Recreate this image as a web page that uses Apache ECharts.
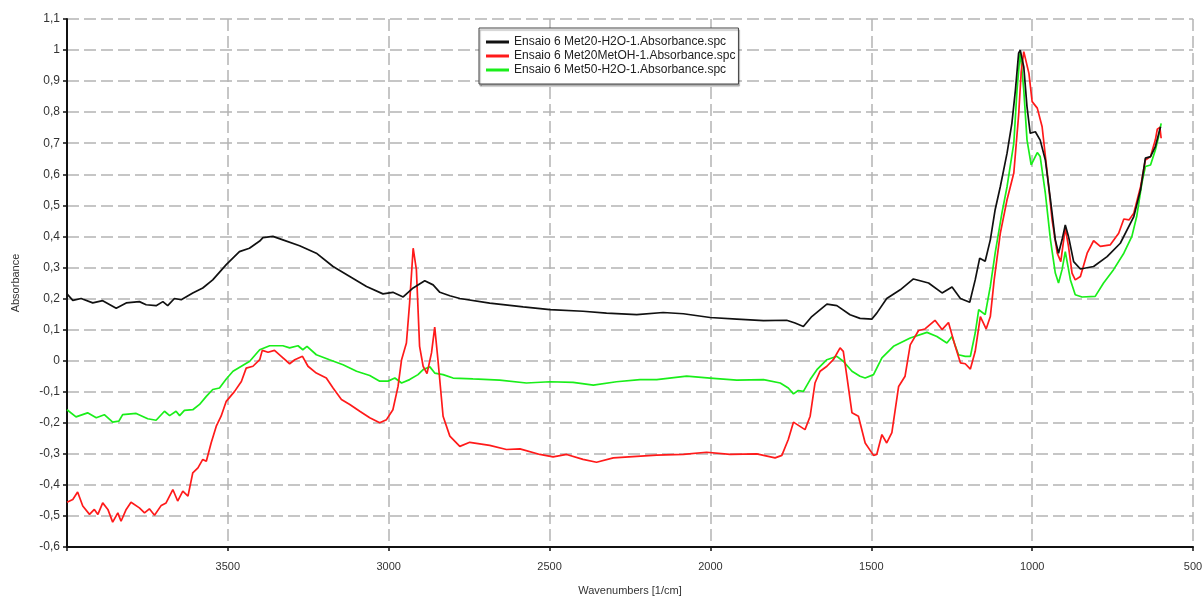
<!DOCTYPE html>
<html>
<head>
<meta charset="utf-8">
<script src="https://cdn.jsdelivr.net/npm/echarts@6/dist/echarts.min.js"></script>
<style>
html,body{margin:0;padding:0;background:#fff;}
#chart{width:1203px;height:597px;}
</style>
</head>
<body>
<div id="chart"></div>
<script>
// Series names
const seriesNames = [
  'Ensaio 6 Met20-H2O-1.Absorbance.spc',
  'Ensaio 6 Met20MetOH-1.Absorbance.spc',
  'Ensaio 6 Met50-H2O-1.Absorbance.spc'
];
// [wavenumber, absorbance]
const met20H2O = [[4000,0.215],[3982,0.194],[3956,0.20],[3920,0.186],[3889,0.193],[3847,0.169],[3816,0.186],[3775,0.19],[3754,0.18],[3723,0.177],[3702,0.19],[3687,0.177],[3666,0.2],[3645,0.196],[3609,0.218],[3578,0.234],[3547,0.26],[3505,0.309],[3464,0.351],[3433,0.362],[3401,0.385],[3391,0.396],[3360,0.40],[3329,0.389],[3277,0.37],[3225,0.346],[3173,0.303],[3121,0.271],[3069,0.239],[3018,0.215],[2987,0.22],[2955,0.205],[2924,0.234],[2888,0.257],[2862,0.244],[2841,0.22],[2810,0.209],[2779,0.2],[2686,0.185],[2582,0.173],[2499,0.164],[2396,0.159],[2323,0.153],[2229,0.148],[2147,0.155],[2084,0.151],[2001,0.139],[1918,0.134],[1835,0.129],[1763,0.13],[1737,0.121],[1711,0.11],[1685,0.142],[1638,0.182],[1607,0.177],[1566,0.148],[1535,0.136],[1498,0.134],[1483,0.153],[1452,0.2],[1410,0.228],[1369,0.263],[1322,0.25],[1280,0.218],[1249,0.237],[1223,0.2],[1194,0.188],[1177,0.26],[1163,0.33],[1146,0.32],[1130,0.389],[1115,0.486],[1099,0.56],[1078,0.668],[1063,0.764],[1052,0.871],[1042,0.99],[1037,1.0],[1026,0.946],[1016,0.818],[1006,0.732],[990,0.737],[975,0.71],[959,0.646],[943,0.518],[928,0.389],[918,0.346],[907,0.389],[897,0.437],[887,0.4],[871,0.319],[850,0.295],[809,0.303],[767,0.335],[726,0.378],[684,0.464],[663,0.55],[648,0.652],[632,0.657],[617,0.689],[601,0.753]];
const met20MetOH = [[4000,-0.456],[3982,-0.447],[3967,-0.423],[3951,-0.468],[3930,-0.495],[3915,-0.479],[3904,-0.495],[3889,-0.458],[3873,-0.479],[3858,-0.52],[3842,-0.49],[3832,-0.517],[3816,-0.479],[3801,-0.456],[3775,-0.474],[3759,-0.49],[3744,-0.477],[3728,-0.498],[3707,-0.466],[3692,-0.458],[3671,-0.415],[3656,-0.452],[3640,-0.42],[3624,-0.436],[3609,-0.361],[3593,-0.345],[3578,-0.318],[3567,-0.324],[3552,-0.265],[3536,-0.211],[3521,-0.179],[3505,-0.131],[3479,-0.099],[3458,-0.067],[3443,-0.024],[3422,-0.018],[3401,0.003],[3393,0.033],[3375,0.027],[3355,0.033],[3334,0.014],[3308,-0.01],[3292,0.003],[3268,0.014],[3251,-0.018],[3225,-0.04],[3194,-0.056],[3173,-0.088],[3147,-0.125],[3121,-0.141],[3090,-0.163],[3059,-0.184],[3028,-0.2],[3007,-0.19],[2987,-0.158],[2971,-0.083],[2960,0.003],[2945,0.057],[2935,0.186],[2924,0.362],[2914,0.293],[2904,0.046],[2893,-0.018],[2881,-0.042],[2867,0.025],[2857,0.108],[2847,0.003],[2831,-0.179],[2810,-0.243],[2779,-0.276],[2748,-0.263],[2686,-0.273],[2634,-0.286],[2592,-0.284],[2530,-0.302],[2489,-0.31],[2447,-0.302],[2396,-0.318],[2354,-0.327],[2302,-0.313],[2229,-0.308],[2167,-0.304],[2084,-0.302],[2012,-0.295],[1939,-0.302],[1856,-0.3],[1799,-0.313],[1778,-0.305],[1758,-0.254],[1742,-0.198],[1706,-0.222],[1690,-0.179],[1675,-0.072],[1659,-0.034],[1638,-0.018],[1618,0.003],[1597,0.041],[1587,0.03],[1576,-0.05],[1560,-0.168],[1540,-0.179],[1519,-0.265],[1493,-0.305],[1483,-0.302],[1467,-0.238],[1452,-0.265],[1436,-0.232],[1415,-0.083],[1395,-0.05],[1379,0.051],[1353,0.097],[1333,0.102],[1302,0.13],[1280,0.1],[1260,0.123],[1239,0.046],[1223,-0.007],[1208,-0.01],[1192,-0.027],[1177,0.03],[1161,0.142],[1143,0.102],[1130,0.142],[1118,0.26],[1099,0.41],[1078,0.518],[1057,0.604],[1042,0.79],[1034,0.93],[1026,0.995],[1020,0.995],[1010,0.925],[1000,0.834],[984,0.813],[969,0.753],[953,0.604],[938,0.453],[922,0.346],[911,0.319],[897,0.427],[887,0.368],[876,0.282],[866,0.26],[850,0.271],[829,0.346],[809,0.386],[788,0.368],[757,0.373],[731,0.41],[715,0.456],[699,0.453],[684,0.475],[663,0.56],[648,0.646],[632,0.657],[617,0.711],[611,0.745],[603,0.751],[599,0.716]];
const met50H2O = [[4000,-0.158],[3972,-0.181],[3936,-0.168],[3909,-0.184],[3884,-0.174],[3858,-0.198],[3839,-0.195],[3827,-0.174],[3785,-0.17],[3749,-0.187],[3723,-0.192],[3697,-0.163],[3681,-0.177],[3661,-0.163],[3650,-0.177],[3635,-0.16],[3609,-0.158],[3588,-0.141],[3567,-0.115],[3547,-0.093],[3526,-0.088],[3505,-0.059],[3484,-0.034],[3458,-0.018],[3432,-0.002],[3401,0.035],[3370,0.048],[3329,0.048],[3308,0.041],[3282,0.048],[3267,0.035],[3254,0.046],[3225,0.019],[3184,0.003],[3142,-0.013],[3100,-0.034],[3059,-0.048],[3028,-0.066],[3002,-0.066],[2981,-0.056],[2960,-0.072],[2935,-0.061],[2909,-0.045],[2893,-0.029],[2872,-0.02],[2857,-0.04],[2831,-0.045],[2800,-0.056],[2738,-0.059],[2655,-0.063],[2572,-0.072],[2499,-0.068],[2427,-0.07],[2364,-0.079],[2292,-0.068],[2219,-0.061],[2167,-0.061],[2074,-0.05],[2001,-0.056],[1918,-0.063],[1835,-0.061],[1783,-0.072],[1758,-0.088],[1742,-0.107],[1727,-0.096],[1711,-0.099],[1690,-0.061],[1669,-0.029],[1638,0.003],[1607,0.014],[1587,-0.002],[1560,-0.034],[1535,-0.05],[1519,-0.056],[1493,-0.045],[1467,0.009],[1431,0.046],[1379,0.073],[1327,0.091],[1296,0.078],[1265,0.057],[1249,0.078],[1229,0.019],[1208,0.014],[1192,0.014],[1177,0.089],[1166,0.164],[1146,0.148],[1130,0.239],[1115,0.346],[1094,0.475],[1078,0.56],[1057,0.7],[1047,0.871],[1037,0.995],[1026,0.871],[1016,0.711],[1003,0.63],[984,0.67],[975,0.657],[959,0.539],[943,0.389],[928,0.282],[918,0.25],[907,0.293],[897,0.351],[881,0.26],[866,0.212],[845,0.205],[804,0.207],[778,0.25],[747,0.293],[715,0.346],[690,0.4],[675,0.464],[659,0.571],[648,0.625],[632,0.63],[617,0.678],[607,0.721],[599,0.764]];
const seriesColors = ['#111111', '#ff1a1a', '#1aee1a'];

const chart = echarts.init(document.getElementById('chart'), null, {renderer: 'canvas'});
const font = 'Liberation Sans, Arial, sans-serif';
const gridLine = {show: true, lineStyle: {color: '#b4b4b4', width: 1.5, type: [12, 5]}};
const option = {
  backgroundColor: '#fff',
  animation: false,
  grid: {left: 67, right: 10, top: 19, bottom: 50, containLabel: false, outerBoundsMode: 'none'},
  legend: {
    orient: 'vertical', left: 479, top: 28,
    data: seriesNames,
    icon: 'rect', itemWidth: 23, itemHeight: 3, itemGap: 0, itemTextGap: 4,
    padding: [7, 3, 7, 7],
    backgroundColor: '#fff', borderColor: '#444', borderWidth: 1,
    shadowColor: 'rgba(0,0,0,0.35)', shadowOffsetY: 2, shadowOffsetX: 1, shadowBlur: 1,
    textStyle: {fontFamily: font, fontSize: 12, color: '#222', lineHeight: 14}
  },
  xAxis: {
    type: 'value', inverse: true, min: 500, max: 4000, interval: 500,
    name: 'Wavenumbers [1/cm]', nameLocation: 'middle', nameGap: 38,
    nameTextStyle: {fontFamily: font, fontSize: 11, color: '#333'},
    axisLine: {show: true, onZero: false, lineStyle: {color: '#111', width: 2}},
    axisTick: {show: true, length: 4, lineStyle: {color: '#111', width: 1.5}},
    axisLabel: {fontFamily: font, fontSize: 11, color: '#333', margin: 14,
      formatter: v => v === 4000 ? '' : String(v)},
    splitLine: gridLine
  },
  yAxis: {
    type: 'value', min: -0.6, max: 1.1, interval: 0.1,
    name: 'Absorbance', nameLocation: 'middle', nameGap: 46,
    nameTextStyle: {fontFamily: font, fontSize: 11, color: '#333'},
    axisLine: {show: true, onZero: false, lineStyle: {color: '#111', width: 2}},
    axisTick: {show: true, length: 4, lineStyle: {color: '#111', width: 1.5}},
    axisLabel: {fontFamily: font, fontSize: 12, color: '#333', margin: 7,
      formatter: v => String(Math.round(v * 10) / 10 + 0).replace('.', ',')},
    splitLine: gridLine
  },
  series: [met20H2O, met20MetOH, met50H2O].map((d, i) => ({
    name: seriesNames[i], type: 'line', data: d,
    showSymbol: false, symbol: 'none', smooth: false,
    lineStyle: {color: seriesColors[i], width: 1.7},
    itemStyle: {color: seriesColors[i]},
    z: 3 - i
  }))
};
chart.setOption(option);
</script>
</body>
</html>
